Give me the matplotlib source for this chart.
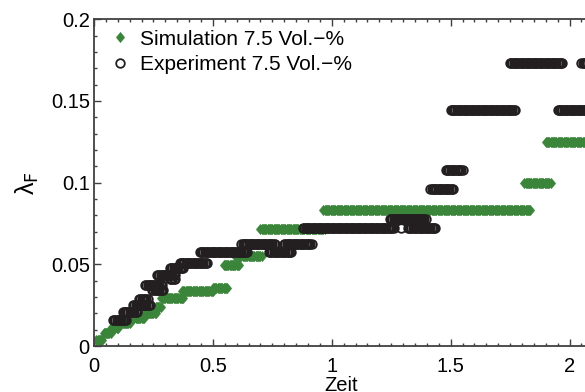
import numpy as np
import matplotlib
matplotlib.use("Agg")
import matplotlib.pyplot as plt
from matplotlib.ticker import MultipleLocator, FixedLocator

plt.rcParams['font.family'] = ['Liberation Sans', 'DejaVu Sans']

# plateaus of the stepwise lambda_F curves: start time, end time, value
sim_start = [0.010, 0.040, 0.070, 0.100, 0.150, 0.210, 0.260, 0.280, 0.370, 0.500,
             0.545, 0.595, 0.700, 0.965, 1.810, 1.900]
sim_end   = [0.035, 0.070, 0.100, 0.150, 0.210, 0.260, 0.280, 0.375, 0.500, 0.560,
             0.610, 0.705, 0.970, 1.835, 1.920, 2.100]
sim_val   = [0.0037, 0.0080, 0.0110, 0.0140, 0.0170, 0.0200, 0.0240, 0.0296, 0.0335, 0.0355,
             0.0496, 0.0550, 0.0716, 0.0832, 0.0998, 0.1250]

exp_start = [0.080, 0.120, 0.165, 0.190, 0.215, 0.245, 0.265, 0.320, 0.320, 0.360,
             0.445, 0.620, 0.735, 0.800, 0.880, 1.290, 1.320, 1.245, 1.345,
             1.415, 1.480, 1.500, 1.750, 1.950, 2.050]
exp_end   = [0.135, 0.180, 0.235, 0.225, 0.286, 0.290, 0.340, 0.340, 0.375, 0.475,
             0.645, 0.760, 0.830, 0.915, 1.260, 1.290, 1.435, 1.340, 1.395,
             1.510, 1.550, 1.770, 1.970, 2.100, 2.100]
exp_val   = [0.0160, 0.0210, 0.0250, 0.0290, 0.0375, 0.0340, 0.0435, 0.0410, 0.0480, 0.0508,
             0.0575, 0.0624, 0.0575, 0.0624, 0.0722, 0.0722, 0.0722, 0.0780, 0.0780,
             0.0960, 0.1080, 0.1444, 0.1730, 0.1444, 0.1730]

dt = 0.005  # sampling interval of the time series


def expand(starts, ends, vals):
    xs, ys = [], []
    for a, b, v in zip(starts, ends, vals):
        t = np.arange(a, b + 1e-9, dt)
        xs.append(t)
        ys.append(np.full_like(t, v))
    return np.concatenate(xs), np.concatenate(ys)


sim_x, sim_y = expand(sim_start, sim_end, sim_val)
exp_x, exp_y = expand(exp_start, exp_end, exp_val)

green = '#3b853b'
dark = '#231f20'
diamond = [(0, 1), (0.82, 0), (0, -1), (-0.82, 0), (0, 1)]

fig = plt.figure(figsize=(5.85, 3.92), dpi=100)
ax = fig.add_axes([0.1607, 0.1173, 0.845, 0.8334])

ax.plot(sim_x, sim_y, linestyle='none', marker=diamond, ms=7.5, mfc=green, mec=green,
        mew=0.3, label='Simulation 7.5 Vol.\u2212%', zorder=2)
ax.plot(exp_x, exp_y, linestyle='none', marker='o', ms=6.2, mfc='none', mec=dark,
        mew=1.3, label='Experiment 7.5 Vol.\u2212%', zorder=3)

ax.set_xlim(0, 494 / 237.6)
ax.set_ylim(0, 0.2)
ax.xaxis.set_major_locator(FixedLocator([0, 0.5, 1, 1.5, 2]))
ax.set_xticklabels(['0', '0.5', '1', '1.5', '2'])
ax.yaxis.set_major_locator(FixedLocator([0, 0.05, 0.1, 0.15, 0.2]))
ax.set_yticklabels(['0', '0.05', '0.1', '0.15', '0.2'])
ax.xaxis.set_minor_locator(MultipleLocator(0.05))
ax.yaxis.set_minor_locator(MultipleLocator(0.01))
ax.tick_params(which='both', direction='in', top=True, right=False, labelsize=14.5,
               color='#404040', width=1.0)
ax.tick_params(which='major', length=5)
ax.tick_params(which='minor', length=2.5)
ax.tick_params(axis='x', pad=8)
ax.tick_params(axis='y', pad=3)
for s in ax.spines.values():
    s.set_linewidth(1.3)
    s.set_color('#404040')

ax.set_xlabel('Zeit', fontsize=14.5, labelpad=0)
ax.set_ylabel('\u03bb$_\\mathrm{F}$', fontsize=18, labelpad=7)

leg = ax.legend(loc='upper left', frameon=False, fontsize=15, numpoints=1,
                handlelength=1.0, handletextpad=0.45, labelspacing=0.3,
                borderaxespad=0.1, bbox_to_anchor=(0.01, 1.0))

fig.savefig('out.png', dpi=100)
